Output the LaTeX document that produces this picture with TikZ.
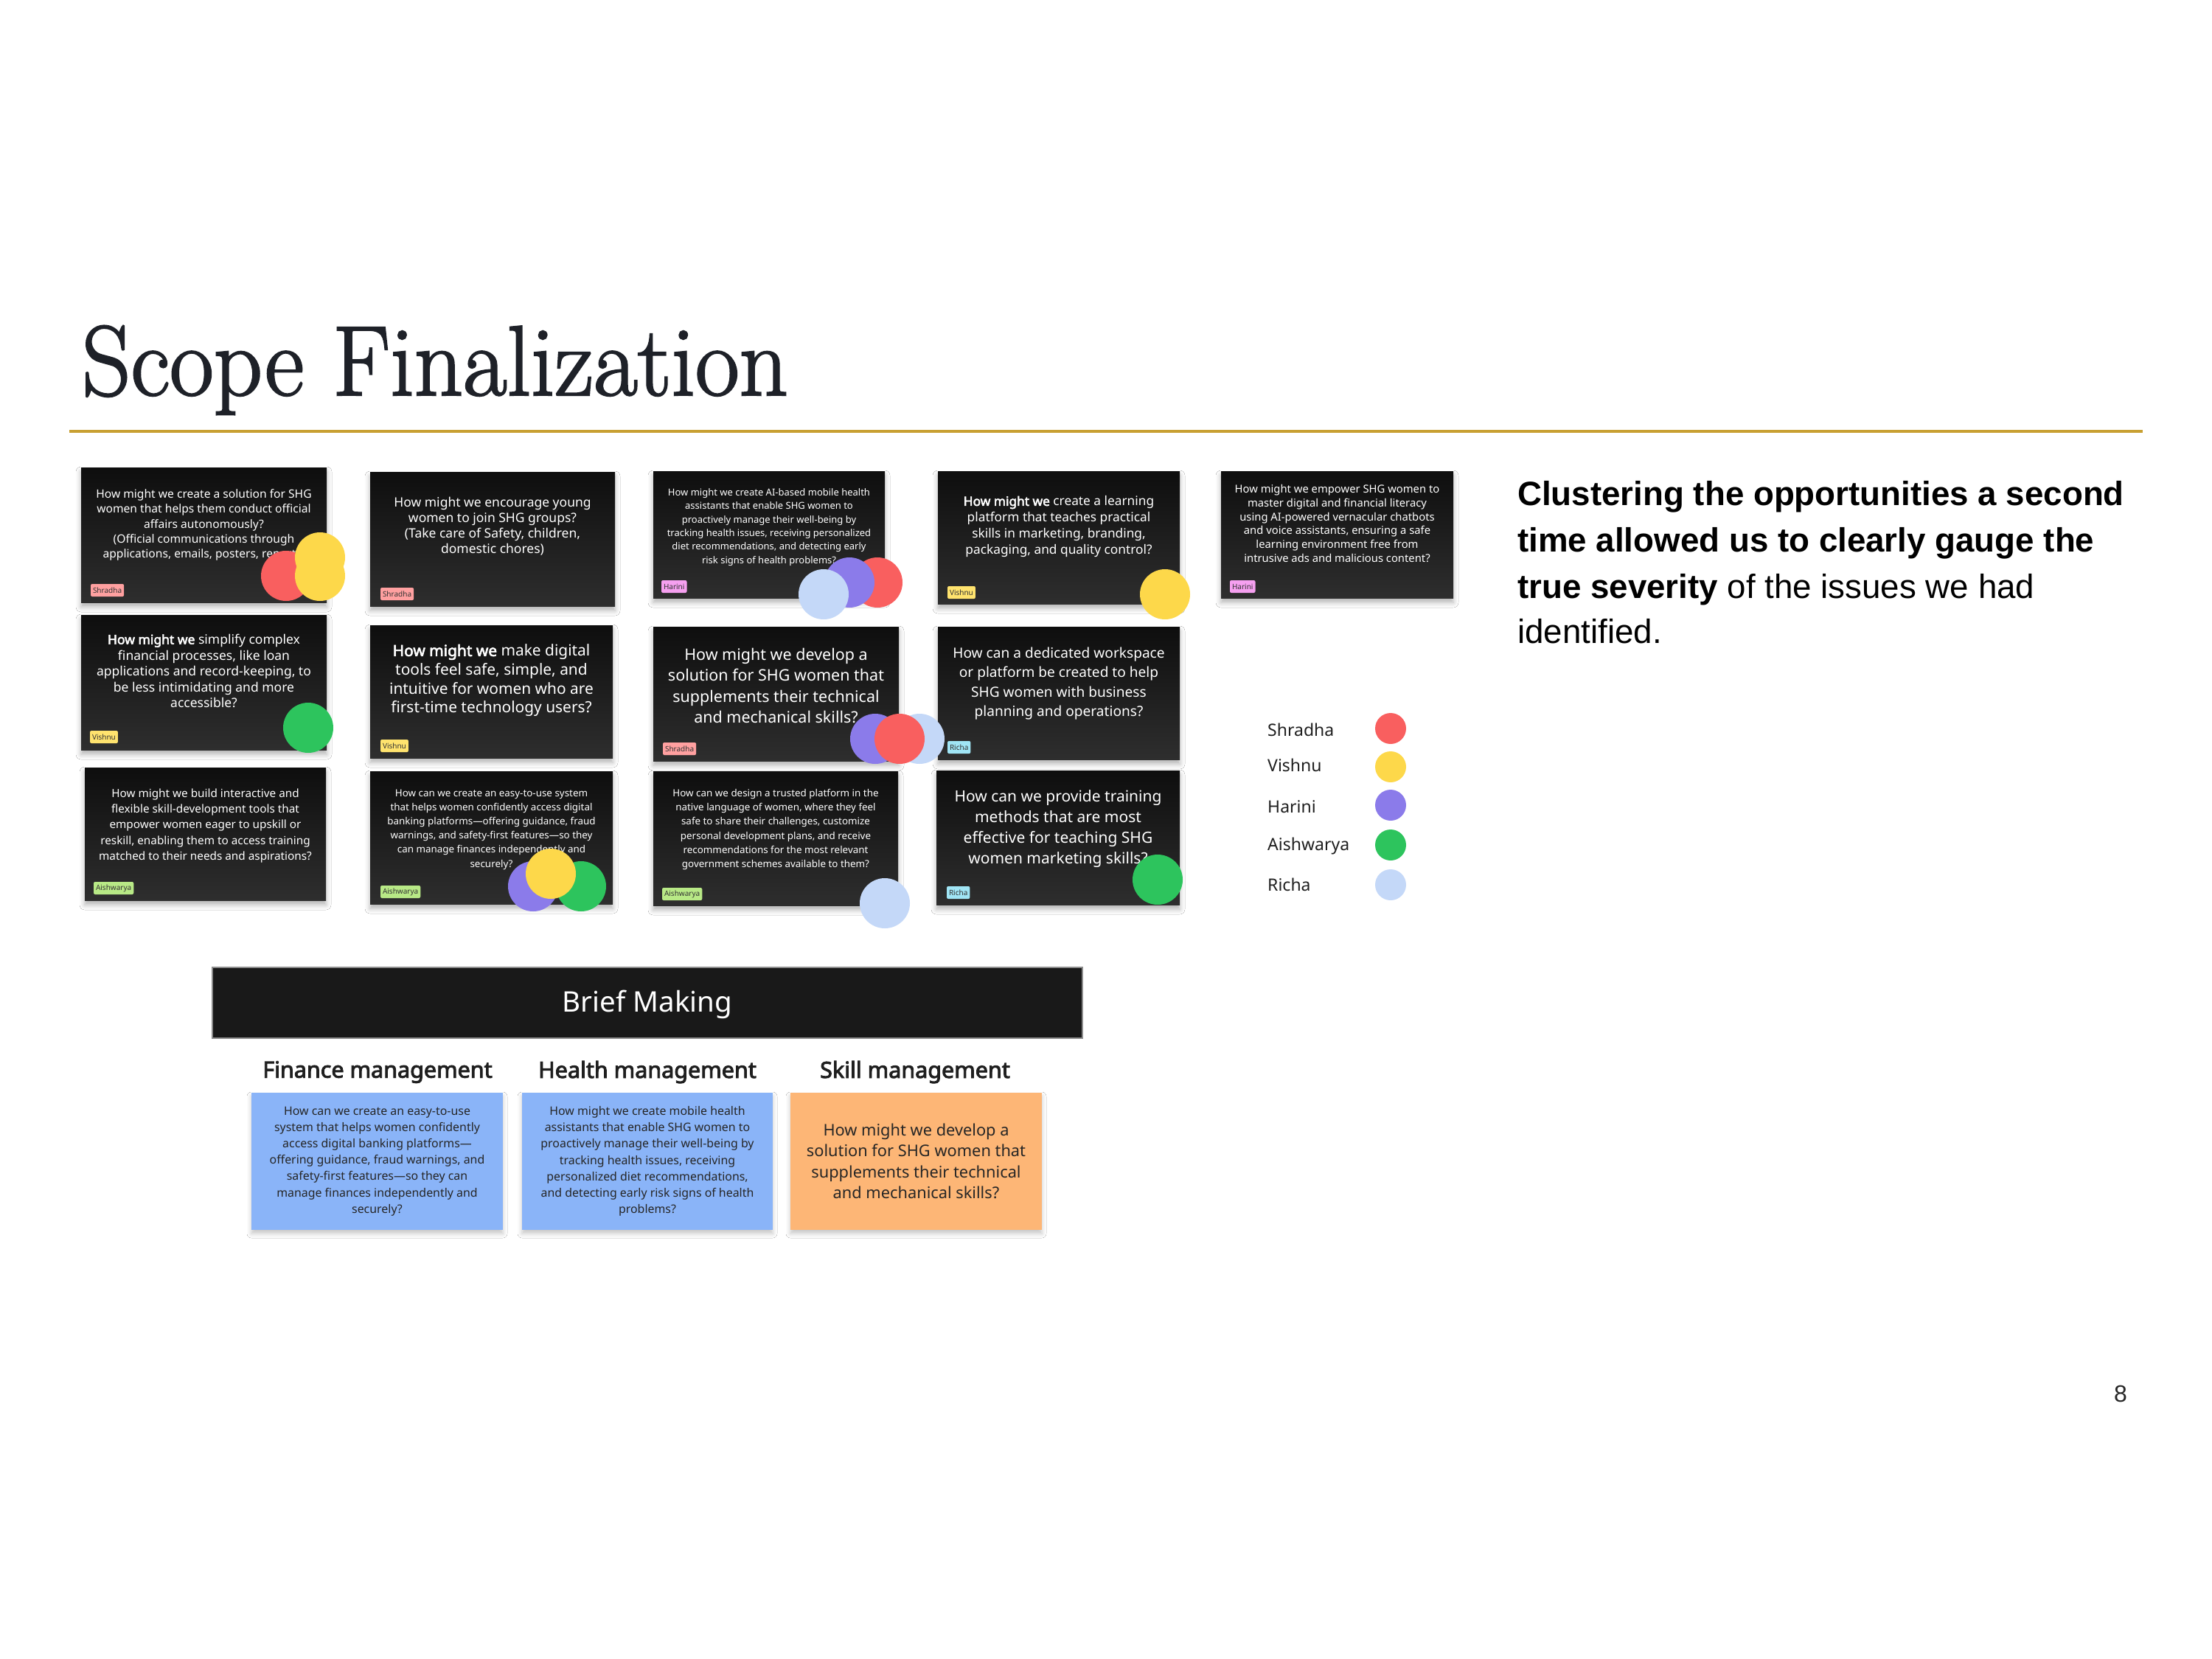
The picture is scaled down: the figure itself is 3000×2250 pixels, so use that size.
\documentclass[tikz,border=0pt]{standalone}
\usepackage{graphicx}
\usepackage{fontspec}
\newfontfamily\notosans{Noto Sans}[BoldFont={Noto Sans}, BoldFeatures={FakeBold=3}]
\newfontfamily\arialfont{Liberation Sans}
\usetikzlibrary{calc,shadows.blur}
\definecolor{shr}{RGB}{249,95,95}
\definecolor{vis}{RGB}{253,216,74}
\definecolor{har}{RGB}{139,123,234}
\definecolor{ais}{RGB}{45,196,93}
\definecolor{ric}{RGB}{196,216,248}
\definecolor{tagshr}{RGB}{255,160,160}
\definecolor{tagvis}{RGB}{255,227,110}
\definecolor{taghar}{RGB}{246,160,240}
\definecolor{tagais}{RGB}{184,233,134}
\definecolor{tagric}{RGB}{160,229,245}
\definecolor{gold}{RGB}{200,160,50}
\definecolor{bluebox}{RGB}{138,180,248}
\definecolor{orangebox}{RGB}{253,182,118}
\definecolor{cardtop}{RGB}{14,14,14}
\definecolor{cardbot}{RGB}{46,46,46}
\definecolor{titlecol}{RGB}{30,33,40}
\newcommand{\szf}[2]{\notosans\fontsize{#1}{#2}\selectfont}
\begin{document}
\begin{tikzpicture}[x=1pt,y=-1pt,
  card/.style={rectangle, inner sep=0pt, top color=cardtop, bottom color=cardbot,
    blur shadow={shadow xshift=0pt, shadow yshift=-6pt, shadow blur radius=7pt, shadow opacity=30}},
  cardtext/.style={text=white, align=center, inner sep=0pt},
  tag/.style={anchor=south west, rounded corners=2pt, inner xsep=3pt, inner ysep=0pt,
    minimum height=17pt, font=\szf{10}{12}, text=black!80},
  sticky/.style={rectangle, inner sep=0pt, align=center, text=black!85,
    blur shadow={shadow xshift=0pt, shadow yshift=-5pt, shadow blur radius=6pt, shadow opacity=22}},
  head/.style={font=\notosans\bfseries\fontsize{30.5}{33}\selectfont, text=black!88, inner sep=0pt},
  legtext/.style={anchor=west, font=\szf{23}{26}, text=black!88, inner sep=0pt},
  para/.style={anchor=base west, inner sep=0pt, font=\arialfont\fontsize{45.7}{55}\selectfont, text=black}
]
\fill[white] (0,0) rectangle (3000,2250);
\useasboundingbox (0,0) rectangle (3000,2250);

% title
\node[anchor=base west, inner sep=0pt, text=titlecol] (title) at (111,536) {\special{pdf:literal direct 2 Tr 2.4 w}\scalebox{0.961}[1]{\fontsize{135}{135}\selectfont Scope Finalization}\special{pdf:literal direct 0 Tr 0.4 w}};
\draw[gold, line width=3.5pt] (94,585) -- (2906,585);

% ---------- cards row 1
\node[card, minimum width=333pt, minimum height=183pt] (c1) at (276.5,725.5) {};
\node[cardtext, font=\szf{15.6}{20.4}] (t1) at (276.5,712) {How might we create a solution for SHG\\women that helps them conduct official\\affairs autonomously?\\(Official communications through\\applications, emails, posters, reports)};
\node[tag, fill=tagshr] (g1) at ($(c1.south west)+(13,-8)$) {Shradha};

\node[card, minimum width=332pt, minimum height=182pt] (c2) at (668,731) {};
\node[cardtext, font=\szf{17.5}{21}] (t2) at (668,714) {How might we encourage young\\women to join SHG groups?\\(Take care of Safety, children,\\domestic chores)};
\node[tag, fill=tagshr] (g2) at ($(c2.south west)+(14,-8)$) {Shradha};

\node[card, minimum width=314pt, minimum height=172pt] (c3) at (1043,725) {};
\node[cardtext, font=\szf{13}{18.4}] (t3) at (1043,715) {How might we create AI-based mobile health\\assistants that enable SHG women to\\proactively manage their well-being by\\tracking health issues, receiving personalized\\diet recommendations, and detecting early\\risk signs of health problems?};
\node[tag, fill=taghar] (g3) at ($(c3.south west)+(11,-7)$) {Harini};

\node[card, minimum width=328pt, minimum height=180pt] (c4) at (1436,729) {};
\node[cardtext, font=\szf{17.3}{21.7}] (t4) at (1436,714) {\textbf{How might we} create a learning\\platform that teaches practical\\skills in marketing, branding,\\packaging, and quality control?};
\node[tag, fill=tagvis] (g4) at ($(c4.south west)+(13,-7)$) {Vishnu};

\node[card, minimum width=315pt, minimum height=172pt] (c5) at (1813.5,725) {};
\node[cardtext, font=\szf{14.8}{18.8}] (t5) at (1813.5,710) {How might we empower SHG women to\\master digital and financial literacy\\using AI-powered vernacular chatbots\\and voice assistants, ensuring a safe\\learning environment free from\\intrusive ads and malicious content?};
\node[tag, fill=taghar] (g5) at ($(c5.south west)+(12,-7)$) {Harini};

% ---------- cards row 2
\node[card, minimum width=333pt, minimum height=183pt] (c6) at (276.5,925.5) {};
\node[cardtext, font=\szf{17.5}{21.5}] (t6) at (276.5,910) {\textbf{How might we} simplify complex\\financial processes, like loan\\applications and record-keeping, to\\be less intimidating and more\\accessible?};
\node[tag, fill=tagvis] (g6) at ($(c6.south west)+(12,-9)$) {Vishnu};

\node[card, minimum width=329pt, minimum height=180pt] (c7) at (666.5,938) {};
\node[cardtext, font=\szf{20.9}{25.7}] (t7) at (666.5,923) {\textbf{How might we} make digital\\tools feel safe, simple, and\\intuitive for women who are\\first-time technology users?};
\node[tag, fill=tagvis] (g7) at ($(c7.south west)+(14,-8)$) {Vishnu};

\node[card, minimum width=333pt, minimum height=182pt] (c8) at (1052.5,941) {};
\node[cardtext, font=\szf{21.5}{28.5}] (t8) at (1052.5,930) {How might we develop a\\solution for SHG women that\\supplements their technical\\and mechanical skills?};
\node[tag, fill=tagshr] (g8) at ($(c8.south west)+(13,-8)$) {Shradha};

\node[card, minimum width=328pt, minimum height=180pt] (c9) at (1436,940) {};
\node[cardtext, font=\szf{19.1}{26.5}] (t9) at (1436,927) {How can a dedicated workspace\\or platform be created to help\\SHG women with business\\planning and operations?};
\node[tag, fill=tagric] (g9) at ($(c9.south west)+(13,-8)$) {Richa};

% ---------- cards row 3
\node[card, minimum width=327pt, minimum height=180pt] (c10) at (278.5,1131) {};
\node[cardtext, font=\szf{15.3}{21.2}] (t10) at (278.5,1120) {How might we build interactive and\\flexible skill-development tools that\\empower women eager to upskill or\\reskill, enabling them to access training\\matched to their needs and aspirations?};
\node[tag, fill=tagais] (g10) at ($(c10.south west)+(12,-8)$) {Aishwarya};

\node[card, minimum width=329pt, minimum height=180pt] (c11) at (666.5,1136) {};
\node[cardtext, font=\szf{13.4}{19.2}] (t11) at (666.5,1125) {How can we create an easy-to-use system\\that helps women confidently access digital\\banking platforms—offering guidance, fraud\\warnings, and safety-first features—so they\\can manage finances independently and\\securely?};
\node[tag, fill=tagais] (g11) at ($(c11.south west)+(14,-8)$) {Aishwarya};

\node[card, minimum width=332pt, minimum height=182pt] (c12) at (1052,1137) {};
\node[cardtext, font=\szf{13.4}{19.3}] (t12) at (1052,1125) {How can we design a trusted platform in the\\native language of women, where they feel\\safe to share their challenges, customize\\personal development plans, and receive\\recommendations for the most relevant\\government schemes available to them?};
\node[tag, fill=tagais] (g12) at ($(c12.south west)+(12,-7)$) {Aishwarya};

\node[card, minimum width=330pt, minimum height=182pt] (c13) at (1435,1136) {};
\node[cardtext, font=\szf{21}{28.3}] (t13) at (1435,1124) {How can we provide training\\methods that are most\\effective for teaching SHG\\women marketing skills?};
\node[tag, fill=tagric] (g13) at ($(c13.south west)+(14,-8)$) {Richa};

% ---------- voting dots
\fill[shr] (388,781) circle (34pt);
\fill[vis] (434,756) circle (34pt);
\fill[vis] (434,781) circle (34pt);
\fill[shr] (1190,790) circle (34pt);
\fill[har] (1152,790) circle (34pt);
\fill[ric] (1117,806) circle (34pt);
\fill[vis] (1580,806) circle (34pt);
\fill[ais] (418,987) circle (34pt);
\fill[har] (1187,1002) circle (34pt);
\fill[ric] (1247,1002) circle (34pt);
\fill[shr] (1220,1002) circle (34pt);
\fill[har] (723,1202) circle (34pt);
\fill[ais] (788,1202) circle (34pt);
\fill[vis] (747,1185) circle (34pt);
\fill[ric] (1200,1225) circle (34pt);
\fill[ais] (1570,1193) circle (34pt);

% ---------- legend
\node[legtext] (l1) at (1719,990) {Shradha};
\node[legtext] (l2) at (1719,1038) {Vishnu};
\node[legtext] (l3) at (1719,1094) {Harini};
\node[legtext] (l4) at (1719,1148) {Aishwarya};
\node[legtext] (l5) at (1719,1200) {Richa};
\fill[shr] (1886,988) circle (21pt);
\fill[vis] (1886,1040) circle (21pt);
\fill[har] (1886,1092) circle (21pt);
\fill[ais] (1886,1146) circle (21pt);
\fill[ric] (1886,1200) circle (21pt);

% ---------- right paragraph
\node[para] (p1) at (2058,685) {\textbf{Clustering the opportunities a second}};
\node[para] (p2) at (2058,748) {\textbf{time allowed us to clearly gauge the}};
\node[para] (p3) at (2058,811) {\textbf{true severity} of the issues we had};
\node[para] (p4) at (2058,872) {identified.};

% ---------- brief making
\node[rectangle, fill=black!90, draw=black!45, line width=1.2pt, minimum width=1180pt, minimum height=96pt, inner sep=0pt] (bar) at (878,1360) {};
\node[text=white, font=\szf{38.5}{42}, inner sep=0pt] (bm) at (878,1362) {Brief Making};

\node[head] (h1) at (512,1454) {Finance management};
\node[head] (h2) at (878,1454) {Health management};
\node[head] (h3) at (1241,1454) {Skill management};

\node[sticky, fill=bluebox, minimum width=341pt, minimum height=186pt, font=\szf{15.9}{22.2}] (b1) at (511.5,1575) {How can we create an easy-to-use\\system that helps women confidently\\access digital banking platforms—\\offering guidance, fraud warnings, and\\safety-first features—so they can\\manage finances independently and\\securely?};
\node[sticky, fill=bluebox, minimum width=340pt, minimum height=186pt, font=\szf{15.9}{22.2}] (b2) at (878,1575) {How might we create mobile health\\assistants that enable SHG women to\\proactively manage their well-being by\\tracking health issues, receiving\\personalized diet recommendations,\\and detecting early risk signs of health\\problems?};
\node[sticky, fill=orangebox, minimum width=341pt, minimum height=186pt, font=\szf{21.8}{28.5}] (b3) at (1242.5,1575) {How might we develop a\\solution for SHG women that\\supplements their technical\\and mechanical skills?};

% page number
\node[font=\arialfont\fontsize{32}{36}\selectfont, text=black!85, inner sep=0pt] (pg) at (2876,1890) {8};
\end{tikzpicture}
\end{document}
